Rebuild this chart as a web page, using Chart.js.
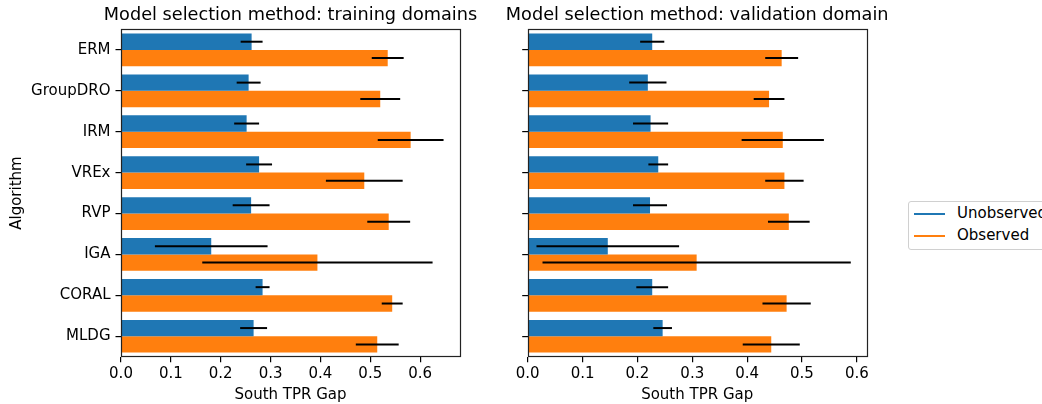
<!DOCTYPE html>
<html>
<head>
<meta charset="utf-8">
<script src="https://cdn.jsdelivr.net/npm/chart.js@4"></script>
<style>
  body { margin: 0; background: #fff; width: 1042px; height: 404px; overflow: hidden; position: relative; font-family: "DejaVu Sans", sans-serif; }
  .panel { position: absolute; top: 0; height: 404px; }
  #legend { position: absolute; left: 908px; top: 201px; width: 150px; height: 47px; border: 1px solid #d0d0d0; border-radius: 3px; background: #fff; font-size: 15px; color: #000; }
  .item { position: absolute; left: 5px; height: 16px; }
  .item span.line { position: absolute; left: 0; top: 7px; width: 31px; height: 2px; }
  .item span.txt { position: absolute; left: 43px; top: -2px; white-space: nowrap; }
</style>
</head>
<body>
<div class="panel" style="left:0;width:581px"><canvas id="left"></canvas></div>
<div class="panel" style="left:470px;width:454.4px"><canvas id="right"></canvas></div>
<div id="legend">
  <div class="item" style="top:4px"><span class="line" style="background:#1f77b4"></span><span class="txt">Unobserved</span></div>
  <div class="item" style="top:26px"><span class="line" style="background:#ff7f0e"></span><span class="txt">Observed</span></div>
</div>
<script>
const algorithms = ["ERM", "GroupDRO", "IRM", "VREx", "RVP", "IGA", "CORAL", "MLDG"]
const seriesNames = ["Unobserved", "Observed"]
const xTicks = [0, 0.1, 0.2, 0.3, 0.4, 0.5, 0.6]

// model selection: training domains
const trainUnobs = [0.262, 0.256, 0.252, 0.277, 0.261, 0.181, 0.284, 0.266]
const trainUnobsErr = [0.022, 0.024, 0.025, 0.026, 0.037, 0.113, 0.014, 0.027]
const trainObs = [0.535, 0.520, 0.581, 0.488, 0.537, 0.394, 0.544, 0.514]
const trainObsErr = [0.032, 0.040, 0.066, 0.077, 0.043, 0.231, 0.021, 0.043]

// model selection: validation domain
const valUnobs = [0.227, 0.219, 0.224, 0.238, 0.223, 0.146, 0.227, 0.246]
const valUnobsErr = [0.022, 0.034, 0.032, 0.018, 0.031, 0.130, 0.029, 0.017]
const valObs = [0.463, 0.440, 0.465, 0.468, 0.476, 0.308, 0.472, 0.444]
const valObsErr = [0.030, 0.028, 0.075, 0.035, 0.038, 0.281, 0.044, 0.052]

const colors = ["#1f77b4", "#ff7f0e"]

Chart.defaults.font.family = "'DejaVu Sans', sans-serif"
Chart.defaults.font.size = 15
Chart.defaults.color = "#000"

// error bars + box around plot area
const errorBars = {
    id: "errorBars",
    afterDatasetsDraw(chart) {
        const ctx = chart.ctx
        const x = chart.scales.x
        ctx.save()
        ctx.strokeStyle = "#000"
        ctx.lineWidth = 2
        chart.data.datasets.forEach((ds, i) => {
            const meta = chart.getDatasetMeta(i)
            meta.data.forEach((bar, j) => {
                const v = ds.data[j], e = ds.errors[j]
                ctx.beginPath()
                ctx.moveTo(x.getPixelForValue(v - e), bar.y)
                ctx.lineTo(x.getPixelForValue(v + e), bar.y)
                ctx.stroke()
            })
        })
        const a = chart.chartArea
        ctx.strokeStyle = "#222"
        ctx.lineWidth = 1.2
        ctx.strokeRect(Math.round(a.left) + 0.5, Math.round(a.top) + 0.5, Math.round(a.right - a.left), Math.round(a.bottom - a.top))
        ctx.restore()
    }
}

// an empty right axis as wide as the left one keeps the title centred over the plot
function makeChart(id, title, unobs, unobsErr, obs, obsErr, xmax, showLabels, sideWidth) {
    return new Chart(document.getElementById(id).getContext("2d"), {
        type: "bar",
        data: {
            labels: algorithms,
            datasets: [
                { label: seriesNames[0], data: unobs, errors: unobsErr, backgroundColor: colors[0] },
                { label: seriesNames[1], data: obs, errors: obsErr, backgroundColor: colors[1] }
            ]
        },
        options: {
            indexAxis: "y",
            responsive: true,
            maintainAspectRatio: false,
            animation: false,
            layout: { padding: 0 },
            datasets: { bar: { categoryPercentage: 0.8, barPercentage: 1.0, borderWidth: 0 } },
            plugins: {
                legend: { display: false },
                tooltip: { enabled: false },
                title: {
                    display: true,
                    text: title,
                    font: { size: 17.7, weight: "normal" },
                    color: "#000",
                    padding: { top: 5, bottom: 3.2 }
                }
            },
            scales: {
                x: {
                    min: 0,
                    max: xmax,
                    afterBuildTicks: s => { s.ticks = xTicks.map(v => ({ value: v })) },
                    afterFit: s => { s.height = 47.3 },
                    ticks: { callback: v => Number(v).toFixed(1), padding: 3, maxRotation: 0 },
                    grid: { drawOnChartArea: false, drawTicks: true, tickLength: 5.5, lineWidth: 1.2, color: "#000" },
                    border: { display: false },
                    title: { display: true, text: "South TPR Gap", padding: { top: 1, bottom: 0 } }
                },
                y: {
                    afterFit: s => { s.width = sideWidth },
                    ticks: { display: showLabels, padding: 5 },
                    grid: { drawOnChartArea: false, drawTicks: true, tickLength: 5.5, lineWidth: 1.2, color: "#000", offset: false },
                    border: { display: false },
                    title: { display: showLabels, text: "Algorithm", padding: { top: 8, bottom: 0 } }
                },
                spacer: {
                    type: "linear",
                    position: "right",
                    axis: "y",
                    min: 0,
                    max: 1,
                    afterFit: s => { s.width = sideWidth },
                    ticks: { display: false },
                    grid: { display: false },
                    border: { display: false }
                }
            }
        },
        plugins: [errorBars]
    })
}

makeChart("left", "Model selection method: training domains", trainUnobs, trainUnobsErr, trainObs, trainObsErr, 0.68, true, 121)
makeChart("right", "Model selection method: validation domain", valUnobs, valUnobsErr, valObs, valObsErr, 0.618, false, 57.7)
</script>
</body>
</html>
